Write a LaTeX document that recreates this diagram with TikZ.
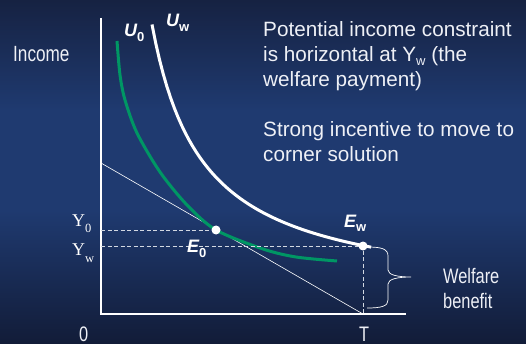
\documentclass[tikz,border=0pt]{standalone}
\usepackage{fontspec}
\usepackage{graphicx}
\setmainfont{Liberation Sans}
\newfontfamily\timesfont{Liberation Serif}

\definecolor{bgtop}{RGB}{22,34,66}
\definecolor{bgmid}{RGB}{31,58,112}
\definecolor{bgbot}{RGB}{18,28,56}
\definecolor{ugreen}{RGB}{0,150,100}
\definecolor{txtwhite}{RGB}{238,240,246}

\newcommand{\narrow}[1]{\scalebox{0.78}[1]{#1}}
\newcommand{\bsub}[2]{\raisebox{-#1}{\fontsize{13}{13}\selectfont\bfseries\upshape #2}}
\newcommand{\tsub}[2]{\raisebox{-#1}{\fontsize{12.5}{12.5}\selectfont #2}}

\tikzset{
  axis/.style={draw=white, line width=1.2pt},
  budget/.style={draw=white, line width=0.6pt},
  ucurve/.style={line width=3pt},
  guide/.style={draw=white!80!bgmid, line width=1pt, dash pattern=on 4pt off 2.5pt},
  eqdot/.style={fill=white},
  curvelabel/.style={inner sep=0pt, anchor=base west, text=white,
    font=\fontsize{18}{18}\selectfont\bfseries\itshape},
  ylabel/.style={inner sep=0pt, anchor=base west, text=white,
    font=\fontsize{18}{18}\selectfont\timesfont},
  plainlabel/.style={inner sep=0pt, anchor=base west, text=txtwhite,
    font=\fontsize{21}{25}\selectfont},
  note/.style={inner sep=0pt, anchor=base west, text=txtwhite, align=left,
    font=\fontsize{20.7}{25}\selectfont}
}

\begin{document}
\begin{tikzpicture}[x=1pt,y=-1pt]
\shade[top color=bgtop, bottom color=bgmid] (0,0) rectangle (526,110);
\fill[bgmid] (0,109) rectangle (526,211);
\shade[top color=bgmid, bottom color=bgbot] (0,210) rectangle (526,344);
\useasboundingbox (0,0) rectangle (526,344);

% axes and budget line
\coordinate (top) at (101,18);
\coordinate (O) at (101,314);
\coordinate (right) at (406,314);
\coordinate (T) at (363,314);
\coordinate (B) at (101,163);
\draw[axis] (top) -- (O) -- (right);
\draw[budget] (B) -- (T);

% indifference curves
\draw[ucurve, draw=ugreen]
plot[smooth] coordinates {(117,41) (120,75) (125,100) (137,133) (160,172) (187,205) (216,230) (263,249) (296,257) (337,261)};
\draw[ucurve, draw=white]
plot[domain=51:270, samples=60] ({101+\x},{299-14000/\x});

% equilibria and guide lines
\coordinate (E0) at (216,230);
\coordinate (Ew) at (363,246);
\draw[guide] (O |- E0) -- (E0);
\draw[guide] (O |- Ew) -- (Ew) -- (T);
\fill[eqdot] (E0) circle (4.5);
\fill[eqdot] (Ew) circle (4.5);

% welfare brace
\draw[white, line width=0.7pt] (367,247) .. controls (382,247) and (388,249) .. (388,256) -- (388,270)
  .. controls (388,275) and (398,277) .. (411,277)
  .. controls (398,277) and (388,279) .. (388,284) -- (388,300)
  .. controls (388,306) and (382,308) .. (367,308);

% labels
\node[curvelabel] (u0) at (124,37) {U\bsub{5pt}{0}};
\node[curvelabel] (uw) at (166,27) {U\bsub{5pt}{w}};
\node[curvelabel] (e0) at (187,252) {E\bsub{5pt}{0}};
\node[curvelabel] (ew) at (344,228) {E\bsub{3pt}{w}};
\node[ylabel] (y0) at (72,226) {Y\tsub{6pt}{0}};
\node[ylabel] (yw) at (72,255) {Y\tsub{7pt}{w}};
\node[plainlabel, font=\fontsize{22}{25}\selectfont] (income) at (13,62) {\narrow{Income}};
\node[plainlabel] (zero) at (79,341) {\narrow{0}};
\node[plainlabel] (tlabel) at (359,341) {\narrow{T}};
\node[plainlabel] (welfare) at (443,283) {\narrow{Welfare}};
\node[plainlabel] (benefit) at (443,308) {\narrow{benefit}};

% last-line baselines
\node[note] (constraint) at (263,87) {Potential income constraint\\
is horizontal at Y\raisebox{-4pt}{\fontsize{13}{13}\selectfont w} (the\\
welfare payment)};
\node[note] (incentive) at (263,162) {Strong incentive to move to\\
corner solution};
\end{tikzpicture}
\end{document}
